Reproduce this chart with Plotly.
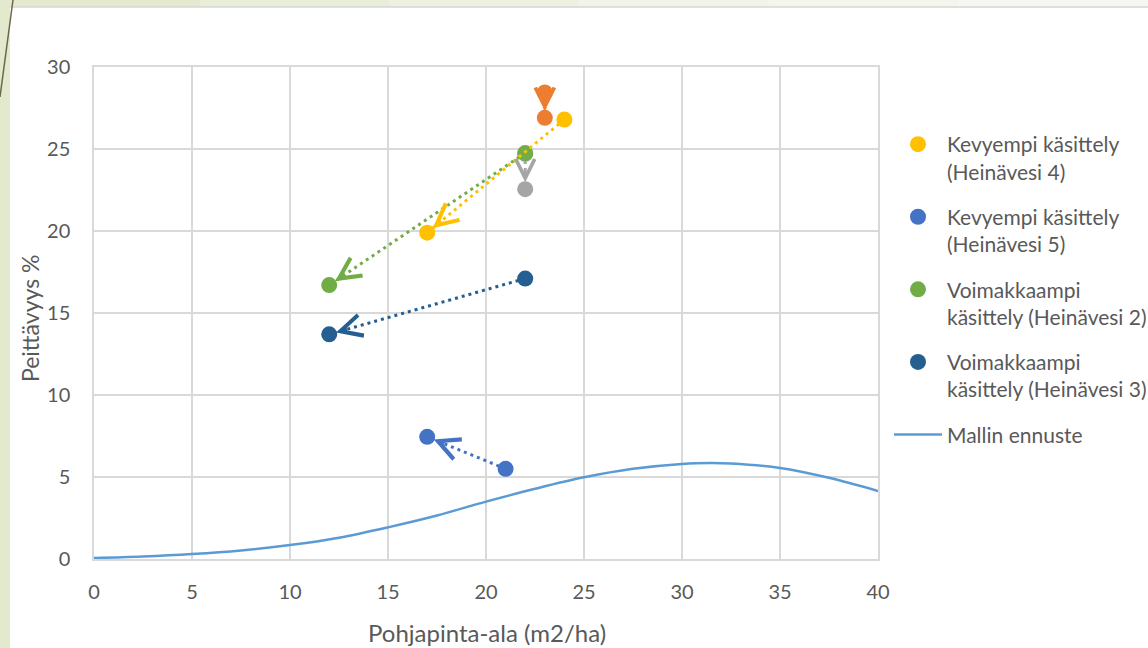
import plotly.graph_objects as go

# ---------------- data ----------------
x_ticks = [0, 5, 10, 15, 20, 25, 30, 35, 40]
y_ticks = [0, 5, 10, 15, 20, 25, 30]

# paired observations: (before, after) basal area vs coverage
heina4_x = [24, 17]
heina4_y = [26.8, 19.9]
heina5_x = [21, 17]
heina5_y = [5.5, 7.45]
heina2_x = [22, 12]
heina2_y = [24.75, 16.7]
heina3_x = [22, 12]
heina3_y = [17.1, 13.7]
orange_x = [23, 23]
orange_y = [28.45, 26.9]
gray_x = [22, 22]
gray_y = [24.7, 22.55]

# model prediction curve
model_x = [0, 2.5, 5, 7.5, 10, 12.5, 15, 17.5, 20, 22.5, 25, 27.5, 30, 31.5, 32.5, 35, 37.5, 40]
model_y = [0.06, 0.15, 0.3, 0.52, 0.85, 1.3, 1.93, 2.65, 3.5, 4.28, 4.98, 5.5, 5.8, 5.85, 5.82, 5.55, 4.95, 4.15]

names = {
    "h4": "Kevyempi käsittely<br>(Heinävesi 4)",
    "h5": "Kevyempi käsittely<br>(Heinävesi 5)",
    "h2": "Voimakkaampi<br>käsittely (Heinävesi 2)",
    "h3": "Voimakkaampi<br>käsittely (Heinävesi 3)",
    "model": "Mallin ennuste",
}
x_title = "Pohjapinta-ala (m2/ha)"
y_title = "Peittävyys %"

# ---------------- layout constants ----------------
FW, FH = 1148, 648
ML, MR, MT, MB = 94, 270, 67, 89
PW, PH = FW - ML - MR, FH - MT - MB
XR, YR = (0, 40), (0, 30)
FONT = "Lato"
TXT = "#595959"
GRID = "#d9d9d9"

def pxx(p):
    return (p - ML) / PW

def pxy(p):
    return (FH - MB - p) / PH

fig = go.Figure()

# (key, x, y, colour, in legend, arrowhead size) -- drawing order
series = [
    ("gray", gray_x, gray_y, "#A5A5A5", False, 1.25),
    ("orange", orange_x, orange_y, "#ED7D31", False, 1.25),
    ("h2", heina2_x, heina2_y, "#70AD47", True, 1.4),
    ("h3", heina3_x, heina3_y, "#255E91", True, 1.4),
    ("h5", heina5_x, heina5_y, "#4472C4", True, 1.4),
    ("h4", heina4_x, heina4_y, "#FFC000", True, 1.4),
]
legend_order = ["h4", "h5", "h2", "h3"]

# model curve first (bottom layer)
fig.add_trace(go.Scatter(
    x=model_x, y=model_y, mode="lines", line=dict(color="#5B9BD5", width=2.5, shape="spline"),
    showlegend=False, hoverinfo="skip"))

for key, xs, ys, col, leg, asz in series:
    fig.add_trace(go.Scatter(
        x=xs, y=ys, mode="lines", line=dict(color=col, width=3, dash="3px,4px"),
        showlegend=False, hoverinfo="skip"))
    fig.add_trace(go.Scatter(
        x=xs, y=ys, mode="markers", marker=dict(color=col, size=16, line=dict(width=0)),
        name=names.get(key, key), showlegend=leg, legendgroup=key,
        legendrank=legend_order.index(key) if leg else 20))

# legend entry for model
fig.add_trace(go.Scatter(
    x=[None], y=[None], mode="lines", line=dict(color="#5B9BD5", width=2.5),
    name=names["model"], legendgroup="model", legendrank=10))

# arrowheads at the end point of each pair
sx = PW / (XR[1] - XR[0])
sy = PH / (YR[1] - YR[0])
annotations = []
for key, xs, ys, col, leg, asz in series:
    dxp = (xs[0] - xs[1]) * sx
    dyp = (ys[0] - ys[1]) * sy
    length = (dxp ** 2 + dyp ** 2) ** 0.5
    f = min(1.0, 20.0 / length)
    annotations.append(dict(
        x=xs[1], y=ys[1], ax=xs[1] + (xs[0] - xs[1]) * f, ay=ys[1] + (ys[0] - ys[1]) * f,
        xref="x", yref="y", axref="x", ayref="y", text="", showarrow=True,
        arrowhead=5, arrowsize=asz, arrowwidth=3, arrowcolor=col, standoff=7))

# axis titles
annotations.append(dict(text=x_title, xref="paper", yref="paper", x=pxx(487), y=pxy(632),
                        xanchor="center", yanchor="middle", showarrow=False,
                        font=dict(family=FONT, size=24, color=TXT)))
annotations.append(dict(text=y_title, xref="paper", yref="paper", x=pxx(30), y=pxy(319),
                        xanchor="center", yanchor="middle", showarrow=False, textangle=-90,
                        font=dict(family=FONT, size=23, color=TXT)))

# decorative slide background
shapes = []
shapes.append(dict(type="rect", xref="paper", yref="paper", x0=pxx(0), x1=pxx(10), y0=pxy(FH), y1=pxy(0),
                   fillcolor="#e2e9cc", line=dict(width=0), layer="below"))
top_cols = ["#e3eacf", "#e8eed8", "#edf1e1", "#f1f4e8", "#f4f6ed", "#f6f7f1"]
seg = (FW - 10) / len(top_cols)
for i, c in enumerate(top_cols):
    shapes.append(dict(type="rect", xref="paper", yref="paper", x0=pxx(10 + i * seg), x1=pxx(10 + (i + 1) * seg + 1),
                       y0=pxy(7), y1=pxy(0), fillcolor=c, line=dict(width=0), layer="below"))
shapes.append(dict(type="line", xref="paper", yref="paper", x0=pxx(10), x1=pxx(FW), y0=pxy(7), y1=pxy(7),
                   line=dict(color="#d6d6d6", width=1.5), layer="below"))
shapes.append(dict(type="line", xref="paper", yref="paper", x0=pxx(13), x1=pxx(0), y0=pxy(0), y1=pxy(97),
                   line=dict(color="#6b6a4b", width=1.5), layer="above"))

fig.update_layout(
    width=FW, height=FH,
    margin=dict(l=ML, r=MR, t=MT, b=MB, autoexpand=False),
    paper_bgcolor="white", plot_bgcolor="white",
    font=dict(family=FONT, color=TXT, size=20),
    xaxis=dict(range=list(XR), tickvals=x_ticks, ticktext=[str(v) for v in x_ticks],
               showgrid=True, gridcolor=GRID, gridwidth=1.5, zeroline=False,
               showline=True, linecolor=GRID, linewidth=1.5, mirror=True,
               ticks="", ticklabelstandoff=14, tickfont=dict(size=20, color=TXT)),
    yaxis=dict(range=list(YR), tickvals=y_ticks, ticktext=[str(v) for v in y_ticks],
               showgrid=True, gridcolor=GRID, gridwidth=1.5, zeroline=False,
               showline=True, linecolor=GRID, linewidth=1.5, mirror=True,
               ticks="", ticklabelstandoff=18, tickfont=dict(size=20, color=TXT)),
    legend=dict(x=pxx(889), y=pxy(124), xanchor="left", yanchor="top",
                font=dict(size=21, color=TXT, family=FONT), valign="top",
                tracegroupgap=15, bgcolor="rgba(0,0,0,0)", itemwidth=48),
    annotations=annotations,
    shapes=shapes,
    showlegend=True,
)

fig.write_html("out.html")
